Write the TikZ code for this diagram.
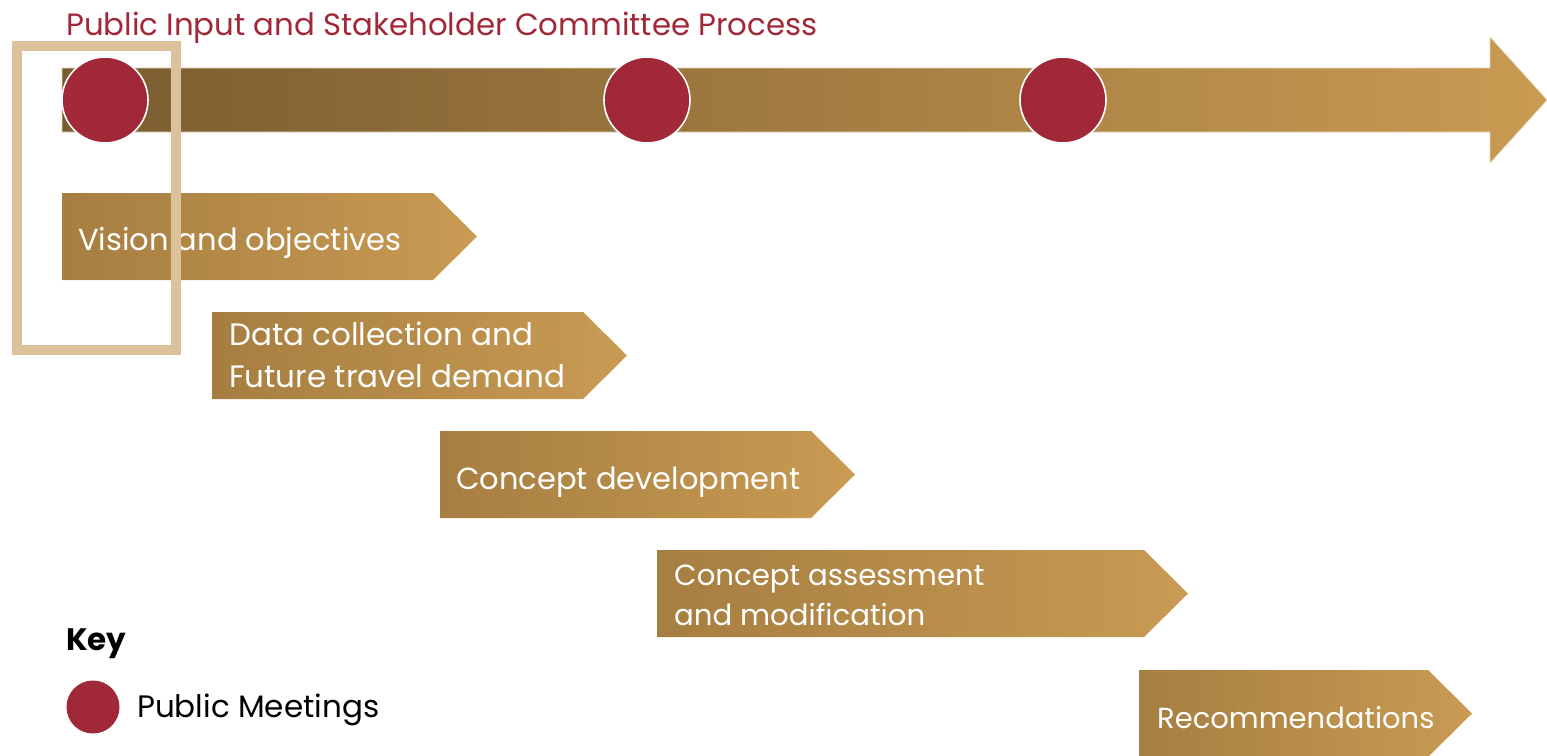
\documentclass[tikz,border=0pt]{standalone}
\usepackage{fontspec}
\setmainfont{Poppins}
\definecolor{crimson}{HTML}{A12838}
\definecolor{shaftL}{HTML}{7A5C30}
\definecolor{shaftR}{HTML}{C99B52}
\definecolor{chevL}{HTML}{A67E41}
\definecolor{chevR}{HTML}{C99B53}
\definecolor{frame}{HTML}{DCC29B}
\begin{document}
\begin{tikzpicture}[x=1pt,y=-1pt,
  chev/.style={left color=chevL,right color=chevR},
  boxtext/.style={anchor=base west,inner sep=0pt,text=white,font=\fontsize{30.5}{40}\selectfont,align=left},
  meeting/.style={circle,fill=crimson,draw=white,line width=1.6pt,minimum size=86pt,inner sep=0pt},
]
\useasboundingbox (0,0) rectangle (1547,755);
% title
\node[anchor=base west,inner sep=0pt,text=crimson,font=\fontsize{30.8}{36}\selectfont] (title) at (66,35) {Public Input and Stakeholder Committee Process};
% main arrow
\shade[left color=shaftL,right color=shaftR,draw=frame!70!white,line width=0.6pt]
  (62,68) -- (1490,68) -- (1490,37) -- (1547,100) -- (1490,163) -- (1490,132) -- (62,132) -- cycle;
% chevrons
\shade[chev] (62,193) -- (433,193) -- (477,236.5) -- (433,280) -- (62,280) -- cycle;
\shade[chev] (212,312) -- (583,312) -- (627,355.5) -- (583,399) -- (212,399) -- cycle;
\shade[chev] (440,431) -- (811,431) -- (855,474.5) -- (811,518) -- (440,518) -- cycle;
\shade[chev] (657,550) -- (1144,550) -- (1188,593.5) -- (1144,637) -- (657,637) -- cycle;
\shade[chev] (1139,670) -- (1428,670) -- (1472,713.5) -- (1428,757) -- (1139,757) -- cycle;
% chevron texts
\node[boxtext] (vision) at (78,250) {Vision and objectives};
\node[boxtext,font=\fontsize{31}{40}\selectfont] (data1) at (229,345) {Data collection and};
\node[boxtext,font=\fontsize{31}{40}\selectfont] (data2) at (229,387) {Future travel demand};
\node[boxtext] (cdev) at (456,489) {Concept development};
\node[boxtext,font=\fontsize{29.2}{40}\selectfont] (cas1) at (674,585) {Concept assessment};
\node[boxtext,font=\fontsize{29.2}{40}\selectfont] (cas2) at (674,625) {and modification};
\node[boxtext,font=\fontsize{29}{40}\selectfont] (rec) at (1157,728) {Recommendations};
% highlight frame
\draw[frame,line width=10pt] (17,46) rectangle (176,350);
% meetings
\node[meeting] (m1) at (105,100) {};
\node[meeting] (m2) at (647,100) {};
\node[meeting] (m3) at (1063,100) {};
% key
\node[anchor=base west,inner sep=0pt,font=\bfseries\fontsize{31}{36}\selectfont] (key) at (66,650) {Key};
\node[circle,fill=crimson,minimum size=53pt,inner sep=0pt] (keydot) at (93,707) {};
\node[anchor=base west,inner sep=0pt,font=\fontsize{31}{36}\selectfont] (keytext) at (137,717) {Public Meetings};
\end{tikzpicture}
\end{document}
